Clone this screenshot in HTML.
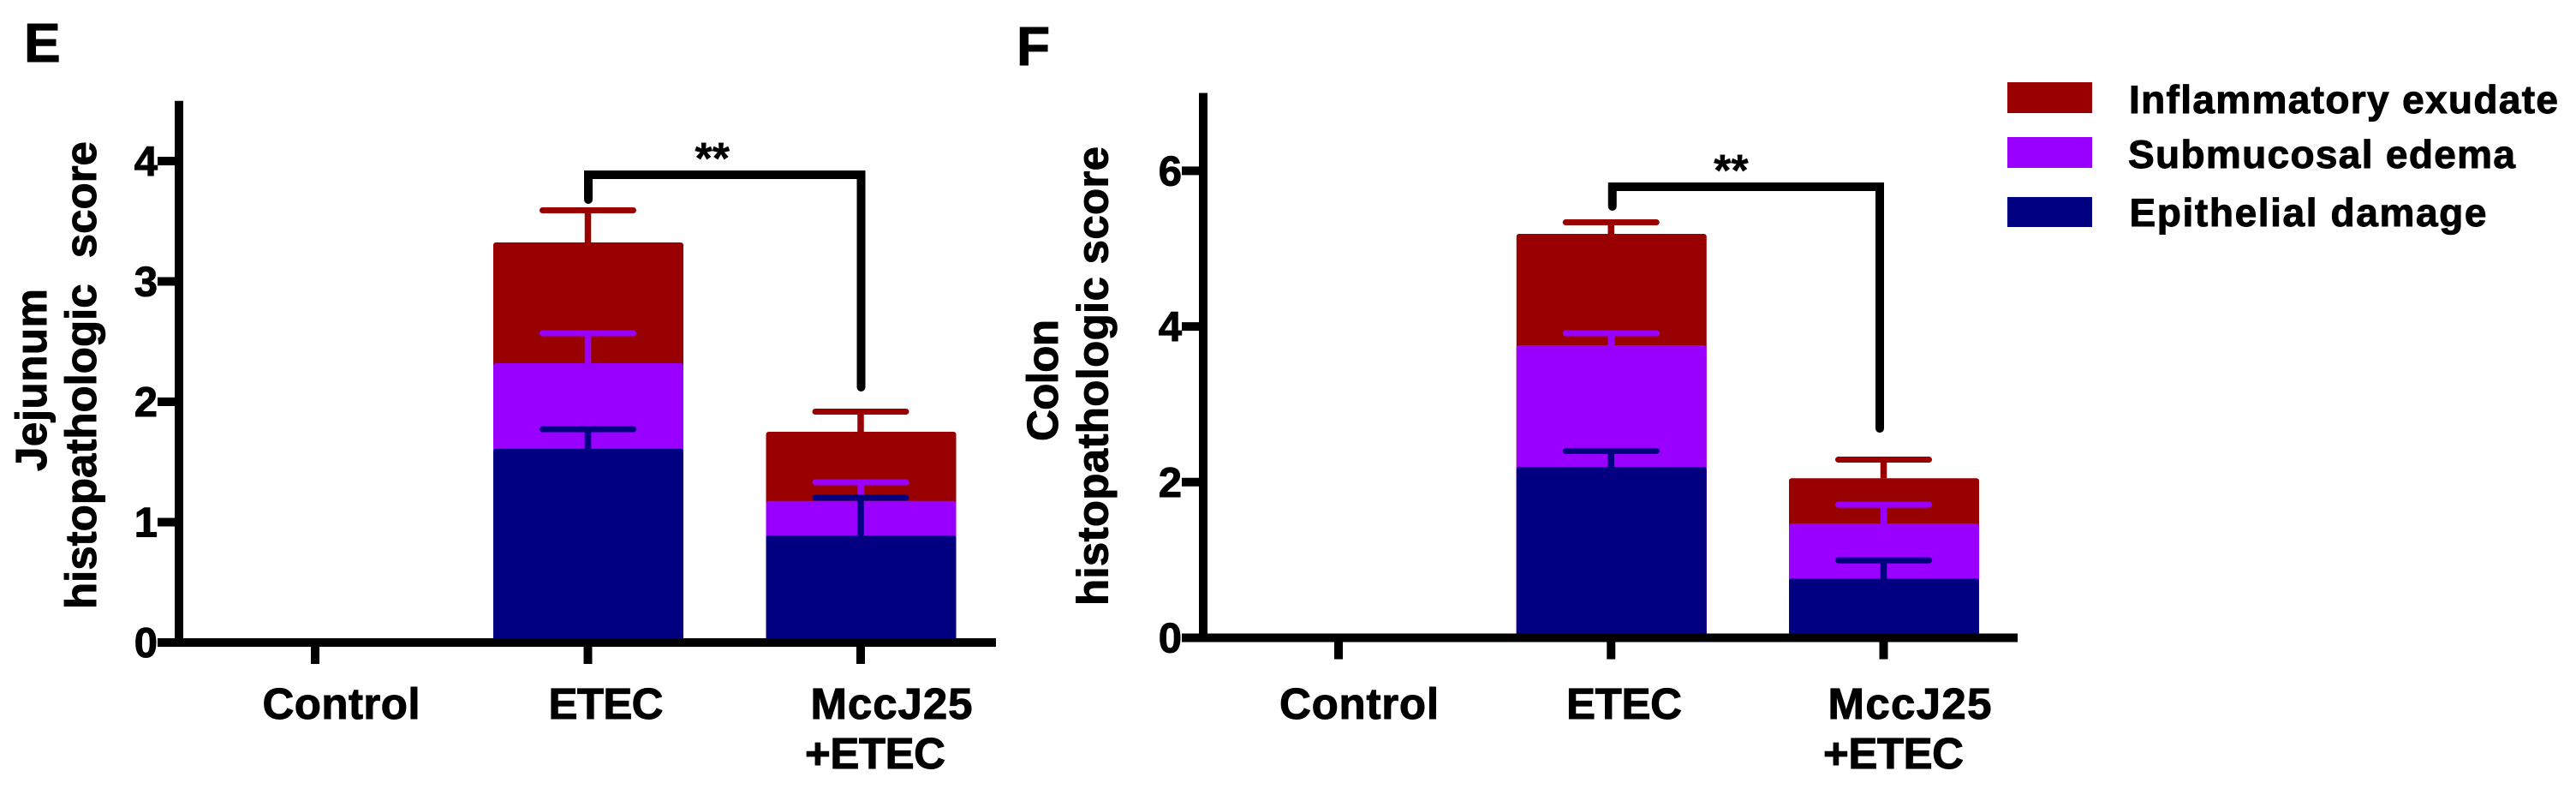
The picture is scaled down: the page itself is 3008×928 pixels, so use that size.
<!DOCTYPE html>
<html lang="en">
<head>
<meta charset="utf-8">
<title>Histopathologic scores</title>
<style>
html,body{margin:0;padding:0;background:#fff;width:3008px;height:928px;overflow:hidden}
svg{display:block}
text{font-family:"Liberation Sans",Arial,sans-serif;font-weight:bold;fill:#000;stroke:#000;stroke-width:1px;text-rendering:geometricPrecision}
</style>
</head>
<body>
<svg id="figure" xmlns="http://www.w3.org/2000/svg" width="3008" height="928" viewBox="0 0 3008 928">
  <rect width="3008" height="928" fill="#fff"/>
  <text x="28" y="72" font-size="64">E</text>
  <text x="1187" y="76" font-size="64">F</text>

  <text transform="translate(54,550) rotate(-90)" font-size="51" textLength="213" lengthAdjust="spacing">Jejunum</text>
  <text transform="translate(112,711) rotate(-90)" font-size="51" xml:space="preserve">histopathologic<tspan dx="16"> </tspan>score</text>
  <text transform="translate(1235,515) rotate(-90)" font-size="51" textLength="142" lengthAdjust="spacing">Colon</text>
  <text transform="translate(1293.5,707) rotate(-90)" font-size="51" textLength="536" lengthAdjust="spacing">histopathologic score</text>

  <g id="panelE"></g>
  <g id="panelF"></g>

  <g>
    <rect x="2344" y="96" width="99" height="36" fill="#990000"/>
    <text x="2486" y="132" font-size="46" textLength="501" lengthAdjust="spacing">Inflammatory exudate</text>
    <rect x="2344" y="160" width="99" height="36" fill="#9900ff"/>
    <text x="2485" y="196" font-size="46" textLength="452" lengthAdjust="spacing">Submucosal edema</text>
    <rect x="2344" y="230" width="99" height="35" fill="#000080"/>
    <text x="2486.5" y="264" font-size="46" textLength="417" lengthAdjust="spacing">Epithelial damage</text>
  </g>
</svg>
<script>
const categories = ['Control', 'ETEC', 'MccJ25'];
const categorySecondLine = ['', '', '+ETEC'];

const jejunumTicks = [0, 1, 2, 3, 4];
const jejunumMax = [4.5];
const jejunumEpithelial = [0, 1.609, 0.89];
const jejunumEdema = [0, 2.32, 1.176];
const jejunumExudate = [0, 3.324, 1.751];
const jejunumEpithelialErr = [0, 1.772, 1.203];
const jejunumEdemaErr = [0, 2.569, 1.331];
const jejunumExudateErr = [0, 3.591, 1.918];
const jejunumBracket = [3.886, 3.68, 2.121];

const colonTicks = [0, 2, 4, 6];
const colonMax = [7];
const colonEpithelial = [0, 2.196, 0.76];
const colonEdema = [0, 3.759, 1.47];
const colonExudate = [0, 5.19, 2.05];
const colonEpithelialErr = [0, 2.40, 0.995];
const colonEdemaErr = [0, 3.913, 1.71];
const colonExudateErr = [0, 5.338, 2.289];
const colonBracket = [5.795, 5.542, 2.69];

const seriesColors = { exudate: '#990000', edema: '#9900ff', epithelial: '#000080' };
const NS = 'http://www.w3.org/2000/svg';

function mk(parent, tag, props) {
  const el = document.createElementNS(NS, tag);
  for (const k in props) el.setAttribute(k, props[k]);
  parent.appendChild(el);
  return el;
}

function drawPanel(root, cfg) {
  const y = v => cfg.y0 - v * cfg.unit;
  const x = i => cfg.x0 + i * cfg.step;

  function drawSeries(i, tops, errs, color, label) {
    if (tops[i] > 0) {
      const bar = mk(root, 'rect', { x: x(i) - cfg.barW / 2 + cfg.barShift, y: y(tops[i]), width: cfg.barW, height: cfg.y0 - y(tops[i]), rx: 3, ry: 3, fill: color });
      
      
      const stem = mk(root, 'line', { x1: x(i), x2: x(i), y1: y(tops[i]), y2: y(errs[i]), stroke: color, 'stroke-width': 7.5 });
      
      
      const cap = mk(root, 'line', { x1: x(i) - 53, x2: x(i) + 53, y1: y(errs[i]), y2: y(errs[i]), stroke: color, 'stroke-width': 7, 'stroke-linecap': 'round' });
      
      
    }
  }

  categories.forEach((c, i) => {
    drawSeries(i, cfg.exudate, cfg.exudateErr, seriesColors.exudate, 'inflammatory-exudate');
    drawSeries(i, cfg.edema, cfg.edemaErr, seriesColors.edema, 'submucosal-edema');
    drawSeries(i, cfg.epithelial, cfg.epithelialErr, seriesColors.epithelial, 'epithelial-damage');
  });

  const yAxis = mk(root, 'line', { x1: cfg.axisX, x2: cfg.axisX, y1: y(cfg.max), y2: cfg.y0, stroke: '#000', 'stroke-width': 10 });
  
  
  const xAxis = mk(root, 'line', { x1: cfg.axisX - 25, x2: cfg.axisEnd, y1: cfg.y0, y2: cfg.y0, stroke: '#000', 'stroke-width': 10 });
  
  

  cfg.ticks.forEach(t => {
    const tick = mk(root, 'line', { x1: cfg.axisX - 25, x2: cfg.axisX, y1: y(t), y2: y(t), stroke: '#000', 'stroke-width': 10 });
    
    
    const lab = mk(root, 'text', { x: cfg.axisX - 25, y: y(t) + 17, 'font-size': 49, 'text-anchor': 'end' });
    lab.textContent = t;
    
    
  });

  categories.forEach((c, i) => {
    const tick = mk(root, 'line', { x1: x(i), x2: x(i), y1: cfg.y0, y2: cfg.y0 + 25, stroke: '#000', 'stroke-width': 10 });
    
    
    const lab = mk(root, 'text', { x: cfg.labelX[i], y: 839, 'font-size': 51, textLength: cfg.labelW[i], lengthAdjust: 'spacing' });
    lab.textContent = c;
    
    
    if (categorySecondLine[i]) {
      const lab2 = mk(root, 'text', { x: cfg.label2X, y: 897, 'font-size': 51, textLength: cfg.label2W, lengthAdjust: 'spacing' });
      lab2.textContent = categorySecondLine[i];
      
      
    }
  });

  const br = cfg.bracket;
  const left = x(1) + cfg.bracketShift[0];
  const right = x(2) + cfg.bracketShift[1];
  const path = mk(root, 'path', {
    d: 'M' + left + ' ' + y(br[1]) + 'V' + y(br[0]) + 'H' + right + 'V' + y(br[2]),
    fill: 'none', stroke: '#000', 'stroke-width': 10, 'stroke-linecap': 'round', 'stroke-linejoin': 'miter'
  });
  
  
  const stars = mk(root, 'text', { x: (left + right) / 2 + cfg.starsShift, y: y(br[0]) - 1.5, 'font-size': 52, 'text-anchor': 'middle', style: 'stroke-width:0.4px' });
  stars.textContent = '**';
  
  
}

drawPanel(document.getElementById('panelE'), {
  y0: 750, unit: 140.5, x0: 368, step: 318.5, barW: 222, barShift: 0.5, axisX: 209, axisEnd: 1163,
  max: jejunumMax[0], ticks: jejunumTicks,
  epithelial: jejunumEpithelial, edema: jejunumEdema, exudate: jejunumExudate,
  epithelialErr: jejunumEpithelialErr, edemaErr: jejunumEdemaErr, exudateErr: jejunumExudateErr,
  bracket: jejunumBracket, bracketShift: [0.5, 0.5], starsShift: -14.5,
  labelX: [306.5, 640.5, 946.5], labelW: [184, 134, 189], label2X: 940, label2W: 164
});

drawPanel(document.getElementById('panelF'), {
  y0: 744.5, unit: 90.85, x0: 1563, step: 318.25, barW: 222, barShift: 0.5, axisX: 1405, axisEnd: 2356,
  max: colonMax[0], ticks: colonTicks,
  epithelial: colonEpithelial, edema: colonEdema, exudate: colonExudate,
  epithelialErr: colonEpithelialErr, edemaErr: colonEdemaErr, exudateErr: colonExudateErr,
  bracket: colonBracket, bracketShift: [1.5, -4.5], starsShift: -17.5,
  labelX: [1494, 1829, 2134.5], labelW: [186, 135, 191], label2X: 2129, label2W: 164
});
</script>
</body>
</html>
